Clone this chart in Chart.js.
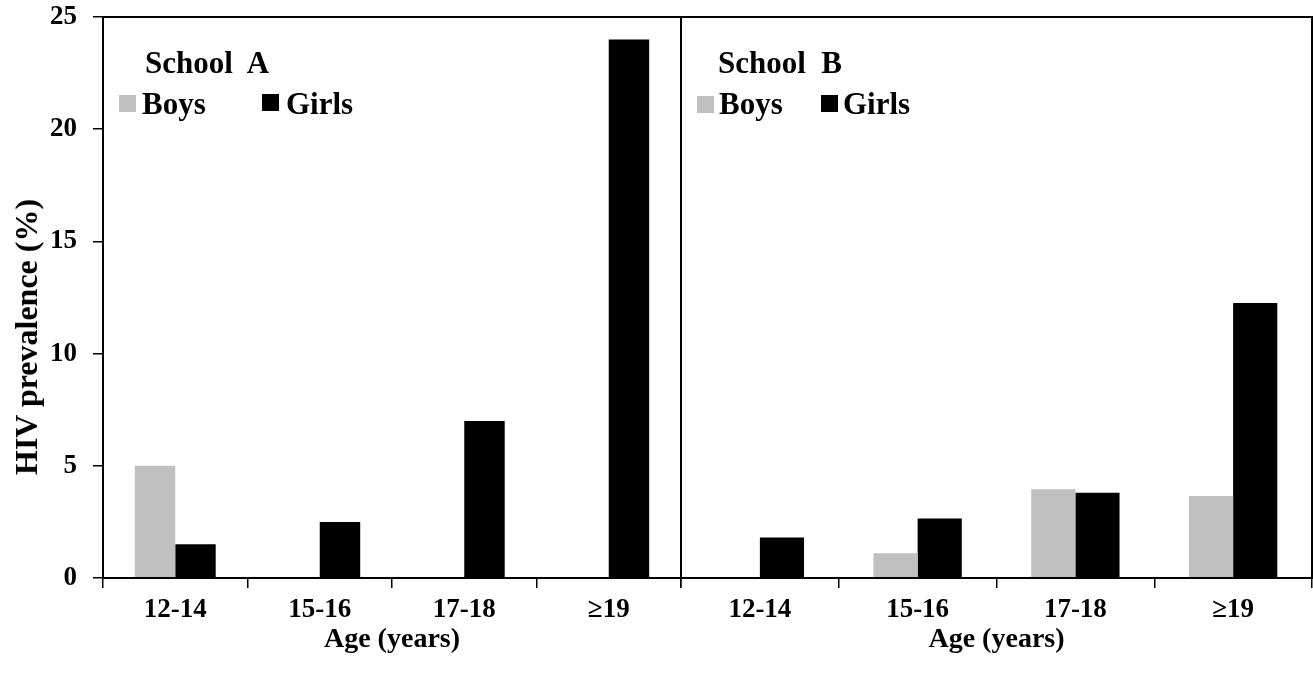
<!DOCTYPE html>
<html>
<head>
<meta charset="utf-8">
<script src="https://cdn.jsdelivr.net/npm/chart.js@4"></script>
<style>
  html,body{margin:0;padding:0;background:#fff;}
  #wrap{position:relative;width:1313px;height:682px;overflow:hidden;font-family:"Liberation Serif","Times New Roman",serif;font-weight:bold;color:#000;}
  canvas{position:absolute;top:0;}
  #cA{left:0;}
  #cB{left:670px;}
  .t{position:absolute;line-height:1;white-space:pre;font-size:31px;}
  .sw{position:absolute;width:17px;height:17px;}
  #ytitle{position:absolute;left:26px;top:337px;transform:translate(-50%,-50%) rotate(-90deg);font-size:32px;line-height:1;white-space:nowrap;}
</style>
</head>
<body>
<div id="wrap">
  <canvas id="cA" width="700" height="682"></canvas>
  <canvas id="cB" width="643" height="682"></canvas>
  <div id="ytitle">HIV prevalence (%)</div>
  <div class="t" style="left:145px;top:47px">School  A</div>
  <div class="sw" style="left:119px;top:95px;background:#c0c0c0"></div>
  <div class="t" style="left:142px;top:88px">Boys</div>
  <div class="sw" style="left:262px;top:94px;background:#000"></div>
  <div class="t" style="left:286px;top:88px">Girls</div>
  <div class="t" style="left:718px;top:47px">School  B</div>
  <div class="sw" style="left:697px;top:96px;background:#c0c0c0"></div>
  <div class="t" style="left:719px;top:88px">Boys</div>
  <div class="sw" style="left:821px;top:95px;background:#000"></div>
  <div class="t" style="left:843px;top:88px">Girls</div>
</div>
<script>
const ageGroups=['12-14','15-16','17-18','\u226519'];
const schoolABoys=[5.0,0,0,0];
const schoolAGirls=[1.5,2.5,7.0,24.0];
const schoolBBoys=[0,1.1,3.95,3.65];
const schoolBGirls=[1.8,2.65,3.8,12.25];
const yTicks=[0,5,10,15,20,25];

const BOYS='#c0c0c0',GIRLS='#000000';
const FONT='"Liberation Serif","Times New Roman",serif';

// frame around the plot area (top / right borders)
const framePlugin={id:'frame',afterDatasetsDraw(chart){
  const a=chart.chartArea,ctx=chart.ctx; ctx.save(); ctx.strokeStyle='#000'; ctx.lineWidth=2;
  ctx.strokeRect(a.left,a.top,a.right-a.left,a.bottom-a.top); ctx.restore();
}};

function makeChart(id,boys,girls,withY,padRight){
  return new Chart(document.getElementById(id).getContext('2d'),{
    type:'bar',
    data:{labels:ageGroups,datasets:[
      {label:'Boys',data:boys,backgroundColor:BOYS,borderWidth:0,categoryPercentage:0.56,barPercentage:1},
      {label:'Girls',data:girls,backgroundColor:GIRLS,borderWidth:0,categoryPercentage:0.56,barPercentage:1}
    ]},
    options:{
      responsive:false,animation:false,
      layout:{padding:{left:0,top:17,right:padRight,bottom:0}},
      plugins:{legend:{display:false},tooltip:{enabled:false}},
      scales:{
        x:{
          afterFit(s){ s.height=104; s.paddingLeft=0; s.paddingRight=0; },
          grid:{offset:true,drawOnChartArea:false,color:'#000',tickLength:10,lineWidth:1.5},
          border:{display:true,color:'#000',width:2},
          ticks:{color:'#000',padding:9,font:{family:FONT,size:27,weight:'bold',lineHeight:1}},
          title:{display:true,text:'Age (years)',color:'#000',padding:{top:0,bottom:28},font:{family:FONT,size:28,weight:'bold',lineHeight:1}}
        },
        y:{
          min:0,max:25,
          afterFit(s){ s.width=withY?103:11; s.paddingTop=0; s.paddingBottom=0; },
          afterBuildTicks(s){ s.ticks=yTicks.map(v=>({value:v})); },
          grid:{drawOnChartArea:false,display:withY,color:'#000',tickLength:10,lineWidth:1.5},
          border:{display:true,color:'#000',width:2},
          ticks:{display:withY,color:'#000',padding:16,font:{family:FONT,size:27,weight:'bold'}}
        }
      }
    },
    plugins:[framePlugin]
  });
}

makeChart('cA',schoolABoys,schoolAGirls,true,19);
makeChart('cB',schoolBBoys,schoolBGirls,false,1);
</script>
</body>
</html>
